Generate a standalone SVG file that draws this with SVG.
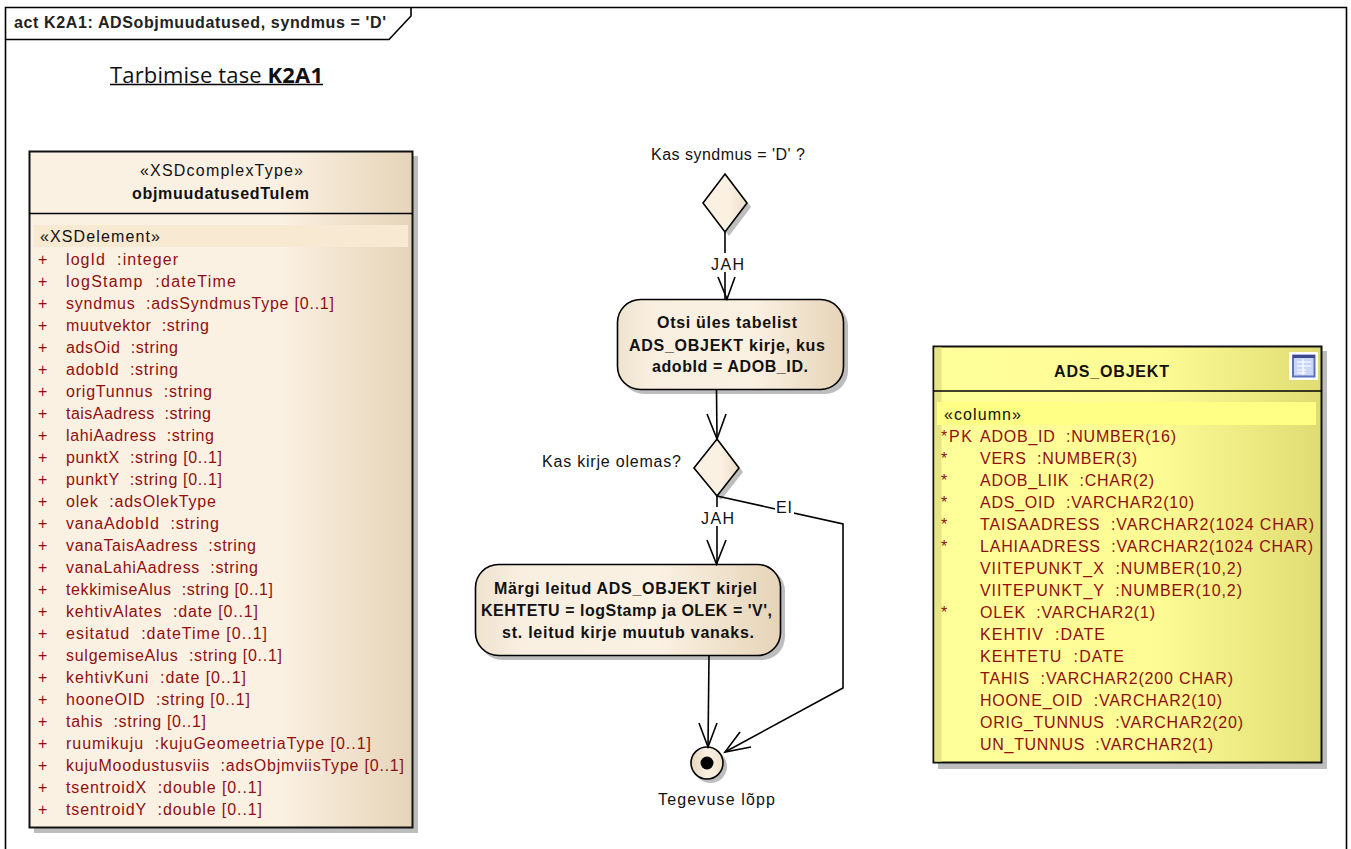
<svg xmlns="http://www.w3.org/2000/svg" width="1351" height="849" viewBox="0 0 1351 849">
<style>
text{font-family:"Liberation Sans",Arial,sans-serif;font-size:16px;fill:#111;white-space:pre}
.r{fill:#8f0f0f}
.b{font-weight:bold;text-anchor:middle}
.c{text-anchor:middle}
.sh{fill:#bdbdbd}
.l{stroke:#000;stroke-width:1.6;fill:none}
</style>
<defs>
<linearGradient id="tan" x1="0" x2="1" y1="0" y2="0"><stop offset="0" stop-color="#fbf1e3"/><stop offset=".65" stop-color="#fbf1e3"/><stop offset="1" stop-color="#e5d4b8"/></linearGradient>
<linearGradient id="yel" x1="0" x2="1" y1="0" y2="0"><stop offset="0" stop-color="#ffff9a"/><stop offset=".58" stop-color="#fdfb94"/><stop offset="1" stop-color="#dedc72"/></linearGradient>
<linearGradient id="act" x1="0" x2="1" y1="0" y2="0"><stop offset="0" stop-color="#efe3cf"/><stop offset=".15" stop-color="#f9efe1"/><stop offset=".6" stop-color="#fbf1e3"/><stop offset="1" stop-color="#e5d4b8"/></linearGradient>
<linearGradient id="dia" x1="0" x2="1" y1="0" y2="0"><stop offset="0" stop-color="#fbf1e3"/><stop offset=".6" stop-color="#fbf1e3"/><stop offset="1" stop-color="#eadcc6"/></linearGradient>
<linearGradient id="end" x1="0" x2="1" y1="0" y2="0"><stop offset="0" stop-color="#e5d4b8"/><stop offset=".5" stop-color="#fbf1e3"/><stop offset="1" stop-color="#efe2cc"/></linearGradient>
</defs>
<rect width="1351" height="849" fill="#fff"/>
<g id="frame">
<path class="l" d="M5.500 849V7.500H1346.500V849M5.500 39.500H389L411 16V7.500"/>
<text x="14" y="27.500" textLength="372" style="font-weight:bold;fill:#222">act K2A1: ADSobjmuudatused, syndmus = 'D'</text>
</g>
<g id="title">
<text x="110" y="82.500" textLength="213" style="font-family:'Open Sans',sans-serif;font-size:22px;fill:#111">Tarbimise tase <tspan font-weight="bold">K2A1</tspan></text>
<path d="M110 84.500H323" stroke="#000" stroke-width="1.6"/>
</g>
<g id="objmuudatusedTulem">
<rect class="sh" x="34" y="156" width="384" height="677"/>
<rect x="29.500" y="151.500" width="383" height="676" fill="url(#tan)" stroke="#111" stroke-width="2"/>
<path class="l" d="M29.500 213.500H412.500"/>
<rect x="34" y="225" width="374" height="22" fill="#f8e9d2"/>
<text class="c" x="221.500" y="176" textLength="163">«XSDcomplexType»</text>
<text class="b" x="220.500" y="199" textLength="177">objmuudatusedTulem</text>
<text x="40" y="242" textLength="120">«XSDelement»</text>
<g class="rows">
<text class="r" x="38" y="265">+</text><text class="r" x="66" y="265" textLength="112">logId  :integer</text>
<text class="r" x="38" y="287">+</text><text class="r" x="66" y="287" textLength="170">logStamp  :dateTime</text>
<text class="r" x="38" y="309">+</text><text class="r" x="66" y="309" textLength="268">syndmus  :adsSyndmusType [0..1]</text>
<text class="r" x="38" y="331">+</text><text class="r" x="66" y="331" textLength="143">muutvektor  :string</text>
<text class="r" x="38" y="353">+</text><text class="r" x="66" y="353" textLength="112">adsOid  :string</text>
<text class="r" x="38" y="375">+</text><text class="r" x="66" y="375" textLength="112">adobId  :string</text>
<text class="r" x="38" y="397">+</text><text class="r" x="66" y="397" textLength="146">origTunnus  :string</text>
<text class="r" x="38" y="419">+</text><text class="r" x="66" y="419" textLength="145">taisAadress  :string</text>
<text class="r" x="38" y="441">+</text><text class="r" x="66" y="441" textLength="148">lahiAadress  :string</text>
<text class="r" x="38" y="463">+</text><text class="r" x="66" y="463" textLength="156">punktX  :string [0..1]</text>
<text class="r" x="38" y="485">+</text><text class="r" x="66" y="485" textLength="156">punktY  :string [0..1]</text>
<text class="r" x="38" y="507">+</text><text class="r" x="66" y="507" textLength="150">olek  :adsOlekType</text>
<text class="r" x="38" y="529">+</text><text class="r" x="66" y="529" textLength="153">vanaAdobId  :string</text>
<text class="r" x="38" y="551">+</text><text class="r" x="66" y="551" textLength="190">vanaTaisAadress  :string</text>
<text class="r" x="38" y="573">+</text><text class="r" x="66" y="573" textLength="192">vanaLahiAadress  :string</text>
<text class="r" x="38" y="595">+</text><text class="r" x="66" y="595" textLength="207">tekkimiseAlus  :string [0..1]</text>
<text class="r" x="38" y="617">+</text><text class="r" x="66" y="617" textLength="192">kehtivAlates  :date [0..1]</text>
<text class="r" x="38" y="639">+</text><text class="r" x="66" y="639" textLength="201">esitatud  :dateTime [0..1]</text>
<text class="r" x="38" y="661">+</text><text class="r" x="66" y="661" textLength="216">sulgemiseAlus  :string [0..1]</text>
<text class="r" x="38" y="683">+</text><text class="r" x="66" y="683" textLength="180">kehtivKuni  :date [0..1]</text>
<text class="r" x="38" y="705">+</text><text class="r" x="66" y="705" textLength="184">hooneOID  :string [0..1]</text>
<text class="r" x="38" y="727">+</text><text class="r" x="66" y="727" textLength="140">tahis  :string [0..1]</text>
<text class="r" x="38" y="749">+</text><text class="r" x="66" y="749" textLength="305">ruumikuju  :kujuGeomeetriaType [0..1]</text>
<text class="r" x="38" y="771">+</text><text class="r" x="66" y="771" textLength="338">kujuMoodustusviis  :adsObjmviisType [0..1]</text>
<text class="r" x="38" y="793">+</text><text class="r" x="66" y="793" textLength="196">tsentroidX  :double [0..1]</text>
<text class="r" x="38" y="814.500">+</text><text class="r" x="66" y="814.500" textLength="196">tsentroidY  :double [0..1]</text>
</g>
</g>
<g id="decision1">
<path class="sh" d="M729 178L751 207L729 236L707 207Z"/>
<path d="M725 174L747 203L725 232L703 203Z" fill="url(#dia)" stroke="#000" stroke-width="1.6"/>
<text class="c" x="728" y="159.500" textLength="154">Kas syndmus = 'D' ?</text>
</g>
<g id="decision2">
<path class="sh" d="M721 443L743 472L721 500L698 472Z"/>
<path d="M717 439L739 468L717 496L694 468Z" fill="url(#dia)" stroke="#000" stroke-width="1.6"/>
<text x="542" y="467" textLength="139">Kas kirje olemas?</text>
</g>
<g id="action1">
<rect class="sh" x="621" y="303" width="227" height="91" rx="23"/>
<rect x="617.500" y="299.500" width="226" height="90" rx="23" fill="url(#act)" stroke="#000" stroke-width="1.6"/>
<text class="b" x="727" y="328" textLength="140">Otsi üles tabelist</text>
<text class="b" x="727" y="350.500" textLength="196">ADS_OBJEKT kirje, kus</text>
<text class="b" x="730" y="372" textLength="156">adobId = ADOB_ID.</text>
</g>
<g id="action2">
<rect class="sh" x="479" y="568" width="306" height="92" rx="23"/>
<rect x="475.500" y="564.500" width="305" height="91" rx="23" fill="url(#act)" stroke="#000" stroke-width="1.6"/>
<text class="b" x="625.500" y="594" textLength="263">Märgi leitud ADS_OBJEKT kirjel</text>
<text class="b" x="626.500" y="616" textLength="291">KEHTETU = logStamp ja OLEK = 'V',</text>
<text class="b" x="628" y="637.500" textLength="252">st. leitud kirje muutub vanaks.</text>
</g>
<g id="end">
<circle class="sh" cx="710.500" cy="766.500" r="16.500"/>
<circle cx="707" cy="763" r="16" fill="url(#end)" stroke="#000" stroke-width="1.6"/>
<circle cx="707" cy="763" r="6.500" fill="#000"/>
<text x="658" y="805" textLength="117">Tegevuse lõpp</text>
</g>
<g id="ADS_OBJEKT">
<rect class="sh" x="938" y="351" width="389" height="418"/>
<rect x="933.500" y="346.500" width="388" height="416" fill="url(#yel)" stroke="#111" stroke-width="2"/>
<rect x="934.500" y="347.500" width="7" height="414" fill="#e6e482"/>
<path class="l" d="M933.500 391H1321.500"/>
<rect x="937" y="402" width="379" height="23" fill="#ffff85"/>
<g id="table-icon">
<rect x="1289" y="352" width="29" height="28" fill="#fff"/>
<rect x="1293" y="355.500" width="21.500" height="21" fill="#c9d6f5" stroke="#5a72c0" stroke-width="2"/>
<rect x="1293" y="355" width="22" height="3" fill="#3a4a8c"/>
<path d="M1297 362H1311M1297 366H1311M1297 370H1306M1297 373H1306M1303 359V375" stroke="#fff" stroke-width="1.200" fill="none"/>
</g>
<text class="b" x="1111.500" y="377" textLength="115">ADS_OBJEKT</text>
<text x="944" y="419.500" textLength="77">«column»</text>
<text class="r" x="941" y="442" textLength="31">*PK</text><text class="r" x="980" y="442" textLength="196">ADOB_ID  :NUMBER(16)</text>
<text class="r" x="941" y="464">*</text><text class="r" x="980" y="464" textLength="157">VERS  :NUMBER(3)</text>
<text class="r" x="941" y="486">*</text><text class="r" x="980" y="486" textLength="174">ADOB_LIIK  :CHAR(2)</text>
<text class="r" x="941" y="508">*</text><text class="r" x="980" y="508" textLength="214">ADS_OID  :VARCHAR2(10)</text>
<text class="r" x="941" y="530">*</text><text class="r" x="980" y="530" textLength="334">TAISAADRESS  :VARCHAR2(1024 CHAR)</text>
<text class="r" x="941" y="552">*</text><text class="r" x="980" y="552" textLength="333">LAHIAADRESS  :VARCHAR2(1024 CHAR)</text>
<text class="r" x="980" y="574" textLength="262">VIITEPUNKT_X  :NUMBER(10,2)</text>
<text class="r" x="980" y="596" textLength="262">VIITEPUNKT_Y  :NUMBER(10,2)</text>
<text class="r" x="941" y="618">*</text><text class="r" x="980" y="618" textLength="175">OLEK  :VARCHAR2(1)</text>
<text class="r" x="980" y="640" textLength="125">KEHTIV  :DATE</text>
<text class="r" x="980" y="662" textLength="144">KEHTETU  :DATE</text>
<text class="r" x="980" y="684" textLength="253">TAHIS  :VARCHAR2(200 CHAR)</text>
<text class="r" x="980" y="706" textLength="242">HOONE_OID  :VARCHAR2(10)</text>
<text class="r" x="980" y="728" textLength="263">ORIG_TUNNUS  :VARCHAR2(20)</text>
<text class="r" x="980" y="750" textLength="233">UN_TUNNUS  :VARCHAR2(1)</text>
</g>
<g id="connectors">
<path class="l" d="M725 232V299"/>
<path class="l" d="M718 277L727 299L735 277"/>
<path class="l" d="M716.500 390L717 439"/>
<path class="l" d="M707 414L717 439L726 414"/>
<path class="l" d="M717 496V564"/>
<path class="l" d="M707 540L716.500 564L726 540"/>
<path class="l" d="M717 496L843 524V688L725 752"/>
<path class="l" d="M740 732L725 752L751 747"/>
<path class="l" d="M709 656L708 747"/>
<path class="l" d="M699 723L708 747L717 723"/>
<rect x="708" y="253" width="38" height="19" fill="#fff"/>
<text class="c" x="727.500" y="270" textLength="33">JAH</text>
<rect x="699" y="507" width="38" height="19" fill="#fff"/>
<text class="c" x="717.500" y="523.500" textLength="33">JAH</text>
<rect x="775" y="498" width="19" height="18" fill="#fff"/>
<text class="c" x="784" y="513" textLength="16">EI</text>
</g>
</svg>
